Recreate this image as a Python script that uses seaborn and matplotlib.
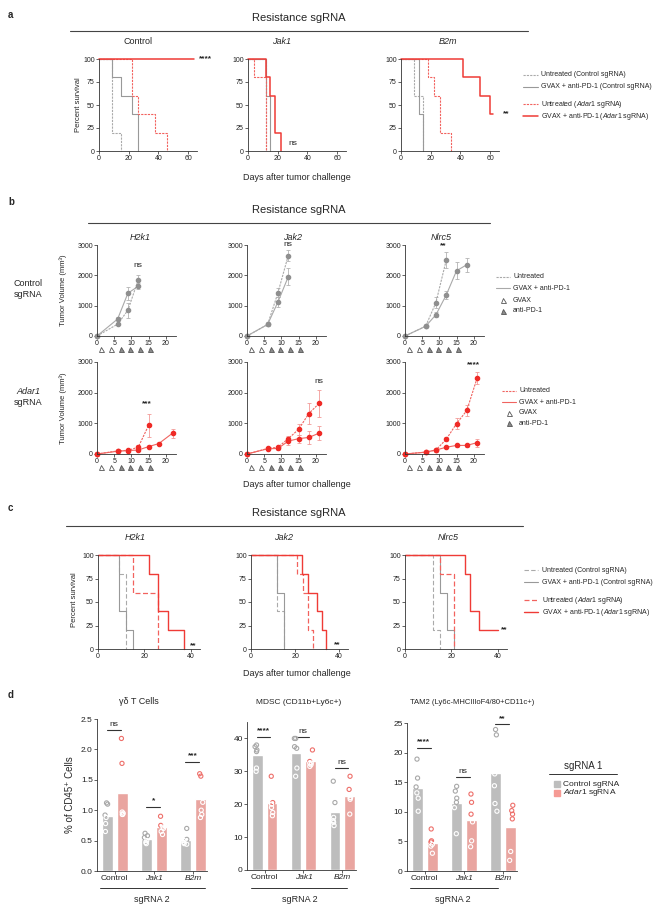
import numpy as np
import pandas as pd
import seaborn as sns
import matplotlib.pyplot as plt
import matplotlib.transforms as mtransforms
from matplotlib.lines import Line2D
from matplotlib.patches import Rectangle

# ---------------- a: survival, resistance sgRNA (days, % survival) ----------------
a_genes = ["Control", "Jak1", "B2m"]
a_control_unt_ctrl = [[0, 9, 15], [100, 20, 0]]
a_control_gvax_ctrl = [[0, 9, 15, 22, 26], [100, 80, 60, 40, 0]]
a_control_unt_adar = [[0, 22, 26, 38, 46], [100, 60, 40, 20, 0]]
a_control_gvax_adar = [[0, 64], [100, 100]]
a_jak1_unt_ctrl = [[0, 12], [100, 0]]
a_jak1_gvax_ctrl = [[0, 12, 15], [100, 60, 0]]
a_jak1_unt_adar = [[0, 4, 12], [100, 80, 0]]
a_jak1_gvax_adar = [[0, 12, 15, 18, 22], [100, 80, 60, 20, 0]]
a_b2m_unt_ctrl = [[0, 9, 15], [100, 60, 0]]
a_b2m_gvax_ctrl = [[0, 12, 15], [100, 40, 0]]
a_b2m_unt_adar = [[0, 18, 22, 26, 34], [100, 80, 60, 20, 0]]
a_b2m_gvax_adar = [[0, 42, 53, 60, 62], [100, 80, 60, 40, 40]]
a_sig = ["****", "ns", "**"]
a_sig_xy = [(67, 100), (27, 8), (69, 40)]

# ---------------- b: tumour growth (day, mean mm3, error) ----------------
b_genes = ["H2k1", "Jak2", "Nlrc5"]
b_h2k1_ctrl_unt = [[0, 6, 9, 12], [0, 390, 850, 1850], [0, 40, 250, 170]]
b_h2k1_ctrl_gvax = [[0, 6, 9, 12], [0, 560, 1410, 1640], [0, 60, 220, 100]]
b_jak2_ctrl_unt = [[0, 6, 9, 12], [0, 380, 1420, 2650], [0, 40, 150, 180]]
b_jak2_ctrl_gvax = [[0, 6, 9, 12], [0, 380, 1120, 1950], [0, 30, 170, 280]]
b_nlrc5_ctrl_unt = [[0, 6, 9, 12], [0, 320, 1100, 2500], [0, 30, 180, 270]]
b_nlrc5_ctrl_gvax = [[0, 6, 9, 12, 15, 18], [0, 320, 700, 1350, 2150, 2350], [0, 30, 80, 120, 280, 230]]
b_h2k1_adar_unt = [[0, 6, 9, 12, 15], [0, 100, 120, 220, 930], [0, 20, 20, 60, 380]]
b_h2k1_adar_gvax = [[0, 6, 9, 12, 15, 18, 22], [0, 90, 110, 130, 240, 340, 680], [0, 20, 20, 30, 40, 60, 150]]
b_jak2_adar_unt = [[0, 6, 9, 12, 15, 18, 21], [0, 180, 220, 500, 800, 1320, 1650], [0, 30, 40, 80, 170, 330, 440]]
b_jak2_adar_gvax = [[0, 6, 9, 12, 15, 18, 21], [0, 170, 180, 420, 500, 540, 680], [0, 30, 40, 130, 130, 220, 220]]
b_nlrc5_adar_unt = [[0, 6, 9, 12, 15, 18, 21], [0, 60, 130, 480, 990, 1420, 2480], [0, 15, 30, 60, 180, 180, 200]]
b_nlrc5_adar_gvax = [[0, 6, 9, 12, 15, 18, 21], [0, 60, 130, 220, 280, 280, 370], [0, 15, 30, 40, 50, 50, 130]]
b_gvax_days = [1.3, 4.1]
b_pd1_days = [6.9, 9.7, 12.5, 15.3]
b_sig_top = ["ns", "ns", "**"]
b_sig_top_xy = [(12, 2330), (12, 3020), (11, 2990)]
b_sig_bot = ["***", "ns", "****"]
b_sig_bot_xy = [(14.5, 1650), (21, 2350), (20, 2900)]

# ---------------- c: survival, resistance sgRNA ----------------
c_h2k1_unt_ctrl = [[0, 9, 12], [100, 80, 0]]
c_h2k1_gvax_ctrl = [[0, 9, 12, 15], [100, 40, 20, 0]]
c_h2k1_unt_adar = [[0, 15, 26], [100, 60, 0]]
c_h2k1_gvax_adar = [[0, 22, 26, 30, 37], [100, 80, 40, 20, 0]]
c_jak2_unt_ctrl = [[0, 12, 15], [100, 40, 0]]
c_jak2_gvax_ctrl = [[0, 12, 15], [100, 60, 0]]
c_jak2_unt_adar = [[0, 21, 23.5, 26, 28], [100, 80, 60, 20, 0]]
c_jak2_gvax_adar = [[0, 23, 26, 30, 32, 34], [100, 80, 60, 40, 20, 0]]
c_nlrc5_unt_ctrl = [[0, 12, 15], [100, 20, 0]]
c_nlrc5_gvax_ctrl = [[0, 15, 18, 21], [100, 60, 20, 0]]
c_nlrc5_unt_adar = [[0, 15, 21], [100, 80, 0]]
c_nlrc5_gvax_adar = [[0, 26, 28, 32, 40], [100, 80, 40, 20, 20]]
c_sig = ["**", "**", "**"]
c_sig_xy = [(41, 3), (39, 5), (43, 20)]

# ---------------- d: % of CD45+ cells ----------------
d_groups = ["Control", "Jak1", "B2m"]
d_sg1 = ["Control sgRNA", "Adar1 sgRNA"]
gd_ctrl = [[1.12, 1.10, 0.92, 0.88, 0.78, 0.65], [0.62, 0.58, 0.55, 0.50, 0.47, 0.45], [0.70, 0.52, 0.50, 0.47, 0.45, 0.44]]
gd_adar = [[2.18, 1.77, 0.97, 0.93, 0.93, 0.95], [0.90, 0.75, 0.72, 0.70, 0.65, 0.60], [1.60, 1.56, 1.13, 1.00, 0.93, 0.88]]
mdsc_ctrl = [[38, 37.5, 36.5, 36, 31, 30], [40, 40, 37.5, 37, 31, 28.5], [27, 20.5, 16, 15, 14.5, 13.5]]
mdsc_adar = [[28.5, 20.5, 20, 19, 17.5, 16.5], [36.5, 33, 32.5, 32.5, 32, 31.5], [28.5, 24.5, 22, 22, 21.5, 17]]
tam_ctrl = [[18.9, 15.7, 14.2, 13.2, 12.3, 10.1], [14.3, 13.5, 12.3, 11.6, 10.7, 6.3], [23.9, 23.0, 16.4, 14.4, 11.4, 10.1]]
tam_adar = [[7.1, 5.1, 4.9, 4.5, 4.2, 3.0], [13.0, 11.6, 9.6, 8.3, 5.1, 4.1], [11.1, 10.2, 9.6, 8.8, 3.3, 1.8]]
gd_sig = ["ns", "*", "***"]
gd_sig_y = [2.32, 1.06, 1.80]
mdsc_sig = ["****", "ns", "ns"]
mdsc_sig_y = [40.5, 40.5, 31]
tam_sig = ["****", "ns", "**"]
tam_sig_y = [20.8, 15.8, 24.8]

# ---------------- style ----------------
W, H = 654, 906
sns.set_theme(style="ticks")
plt.rcParams["font.family"] = ["Liberation Sans", "DejaVu Sans"]
plt.rcParams["mathtext.fontset"] = "custom"
plt.rcParams["mathtext.it"] = "Liberation Sans:italic"
plt.rcParams["mathtext.rm"] = "Liberation Sans"
plt.rcParams["axes.linewidth"] = 0.6
plt.rcParams["axes.edgecolor"] = "#333333"

GRAY = "#999999"
GRAY_D = "#aaaaaa"
RED = "#ef3b36"
RED_D = "#f2625e"
BAR_GRAY = "#bdbdbd"
BAR_RED = "#f59a94"
PT_GRAY = "#a8a8a8"
PT_RED = "#ee6f6a"
SHORT = (0, (2, 1))
LONG = (0, (4, 2))

fig = plt.figure(figsize=(W / 100, H / 100), dpi=100)


def add_ax(x0, y0, x1, y1):
    ax = fig.add_axes([x0 / W, 1 - y1 / H, (x1 - x0) / W, (y1 - y0) / H])
    sns.despine(ax=ax)
    ax.tick_params(labelsize=5, length=2, width=0.5, pad=1, colors="#222222")
    return ax


def ftext(x, y, s, **kw):
    kw.setdefault("ha", "center")
    kw.setdefault("va", "center")
    fig.text(x / W, 1 - y / H, s, **kw)


def fline(x0, x1, y, **kw):
    kw.setdefault("color", "#444444")
    kw.setdefault("lw", 0.8)
    fig.add_artist(Line2D([x0 / W, x1 / W], [1 - y / H, 1 - y / H], **kw))


def survival(ax, curves, styles, xlim):
    for (days, pct), (color, ls, lw) in zip(curves, styles):
        sns.lineplot(x=days, y=pct, ax=ax, drawstyle="steps-post", color=color,
                     linestyle=ls, lw=lw, errorbar=None, clip_on=False)
    ax.set_xlim(*xlim)
    ax.set_ylim(0, 100)
    ax.set_yticks([0, 25, 50, 75, 100])


def growth(ax, unt, gvax, mcol, lcol, ecol):
    for (days, mean, err), ls in ((unt, SHORT), (gvax, "-")):
        ax.errorbar(days, mean, yerr=err, marker="o", ms=3, mfc=mcol, mec=mcol,
                    color=lcol, ls=ls, lw=0.8, ecolor=ecol, elinewidth=0.6,
                    capsize=1.5, capthick=0.6, clip_on=False)
    ax.set_xlim(0, 23)
    ax.set_ylim(0, 3000)
    ax.set_xticks([0, 5, 10, 15, 20])
    ax.set_yticks([0, 1000, 2000, 3000])
    tr = mtransforms.blended_transform_factory(ax.transData, ax.transAxes)
    ax.plot(b_gvax_days, [-0.145] * len(b_gvax_days), "^", ms=3.6, mfc="white",
            mec="#555555", mew=0.6, transform=tr, clip_on=False)
    ax.plot(b_pd1_days, [-0.145] * len(b_pd1_days), "^", ms=3.6, mfc="#8c8c8c",
            mec="#555555", mew=0.6, transform=tr, clip_on=False)


# ================= panel a =================
ftext(8, 15, "a", fontsize=7, fontweight="bold", ha="left")
ftext(299, 18, "Resistance sgRNA", fontsize=8)
fline(70, 528, 31)
a_styles = [(GRAY_D, SHORT, 0.8), (GRAY, "-", 0.8), (RED_D, SHORT, 0.8), (RED, "-", 1.1)]
a_series = [
    [a_control_unt_ctrl, a_control_gvax_ctrl, a_control_unt_adar, a_control_gvax_adar],
    [a_jak1_unt_ctrl, a_jak1_gvax_ctrl, a_jak1_unt_adar, a_jak1_gvax_adar],
    [a_b2m_unt_ctrl, a_b2m_gvax_ctrl, a_b2m_unt_adar, a_b2m_gvax_adar],
]
a_boxes = [(99, 59, 197, 151), (248, 59, 346, 151), (401, 59, 499, 151)]
a_title_x = [138, 282, 448]
for i, gene in enumerate(a_genes):
    ax = add_ax(*a_boxes[i])
    survival(ax, a_series[i], a_styles, (0, 66))
    ax.set_xticks([0, 20, 40, 60])
    ax.text(*a_sig_xy[i], a_sig[i], fontsize=6, va="center", ha="left",
            fontweight="bold" if a_sig[i] != "ns" else "normal")
    ftext(a_title_x[i], 41, gene, fontsize=6.5, fontstyle="normal" if gene == "Control" else "italic")
ftext(79, 105, "Percent survival", fontsize=5.5, rotation=90)
ftext(297, 177, "Days after tumor challenge", fontsize=6.5)

a_leg = ["Untreated (Control sgRNA)", "GVAX + anti-PD-1 (Control sgRNA)",
         r"Untreated ($\mathit{Adar1}$ sgRNA)", r"GVAX + anti-PD-1 ($\mathit{Adar1}$ sgRNA)"]
for y, (c, ls, lw), lab in zip([75, 87, 104, 116], a_styles, a_leg):
    fline(523, 538, y, color=c, ls=ls, lw=lw)
    ftext(541, y, lab, fontsize=5, ha="left")

# ================= panel b =================
ftext(8, 202, "b", fontsize=7, fontweight="bold", ha="left")
ftext(299, 210, "Resistance sgRNA", fontsize=8)
fline(88, 490, 223)
for x, g in zip([140, 293, 441], b_genes):
    ftext(x, 237, g, fontsize=6.5, fontstyle="italic")
b_top = [(b_h2k1_ctrl_unt, b_h2k1_ctrl_gvax), (b_jak2_ctrl_unt, b_jak2_ctrl_gvax), (b_nlrc5_ctrl_unt, b_nlrc5_ctrl_gvax)]
b_bot = [(b_h2k1_adar_unt, b_h2k1_adar_gvax), (b_jak2_adar_unt, b_jak2_adar_gvax), (b_nlrc5_adar_unt, b_nlrc5_adar_gvax)]
b_x = [(97, 176), (247, 326), (405, 484)]
for i in range(3):
    ax = add_ax(b_x[i][0], 245, b_x[i][1], 336)
    growth(ax, *b_top[i], "#8f8f8f", "#a9a9a9", "#b3b3b3")
    ax.text(*b_sig_top_xy[i], b_sig_top[i], fontsize=6, ha="center", va="center",
            fontweight="bold" if b_sig_top[i] != "ns" else "normal")
    ax = add_ax(b_x[i][0], 362, b_x[i][1], 454)
    growth(ax, *b_bot[i], "#ef2a26", "#f06460", "#f39a97")
    ax.text(*b_sig_bot_xy[i], b_sig_bot[i], fontsize=6, ha="center", va="center",
            fontweight="bold" if b_sig_bot[i] != "ns" else "normal")
ftext(63, 290, "Tumor Volume (mm³)", fontsize=5.5, rotation=90)
ftext(63, 408, "Tumor Volume (mm³)", fontsize=5.5, rotation=90)
ftext(28, 289, "Control\nsgRNA", fontsize=6.5, linespacing=1.2)
ftext(28, 392, "Adar1", fontsize=6.5, fontstyle="italic")
ftext(28, 402, "sgRNA", fontsize=6.5)
ftext(297, 485, "Days after tumor challenge", fontsize=6.5)

for (lx, ys), (mc, lc) in zip([(496, [277, 288, 300, 311]), (502, [391, 402, 413, 423])],
                              [("#8f8f8f", "#a9a9a9"), ("#ef2a26", "#f06460")]):
    fline(lx, lx + 14, ys[0], color=lc, ls=SHORT, lw=0.8)
    fline(lx, lx + 14, ys[1], color=lc, lw=0.8)
    fig.add_artist(Line2D([(lx + 7) / W], [1 - ys[2] / H], marker="^", ms=3.6, mfc="white", mec="#555555", mew=0.6))
    fig.add_artist(Line2D([(lx + 7) / W], [1 - ys[3] / H], marker="^", ms=3.6, mfc="#8c8c8c", mec="#555555", mew=0.6))
    for y, lab in zip(ys, ["Untreated", "GVAX + anti-PD-1", "GVAX", "anti-PD-1"]):
        ftext(lx + 17, y, lab, fontsize=5, ha="left")

# ================= panel c =================
ftext(8, 508, "c", fontsize=7, fontweight="bold", ha="left")
ftext(299, 513, "Resistance sgRNA", fontsize=8)
fline(66, 523, 526)
c_styles = [(GRAY_D, LONG, 0.8), (GRAY, "-", 0.8), (RED_D, LONG, 0.9), (RED, "-", 1.0)]
c_series = [
    [c_h2k1_unt_ctrl, c_h2k1_gvax_ctrl, c_h2k1_unt_adar, c_h2k1_gvax_adar],
    [c_jak2_unt_ctrl, c_jak2_gvax_ctrl, c_jak2_unt_adar, c_jak2_gvax_adar],
    [c_nlrc5_unt_ctrl, c_nlrc5_gvax_ctrl, c_nlrc5_unt_adar, c_nlrc5_gvax_adar],
]
c_boxes = [(98, 555, 200, 649), (251, 555, 348, 649), (405, 555, 507, 649)]
for i, gene in enumerate(b_genes):
    ax = add_ax(*c_boxes[i])
    survival(ax, c_series[i], c_styles, (0, 44))
    ax.set_xticks([0, 20, 40])
    ax.text(*c_sig_xy[i], c_sig[i], fontsize=6, fontweight="bold", ha="center", va="center")
    ftext([135, 284, 448][i], 537, gene, fontsize=6.5, fontstyle="italic")
ftext(74, 600, "Percent survival", fontsize=5.5, rotation=90)
ftext(297, 673, "Days after tumor challenge", fontsize=6.5)
for y, (c, ls, lw), lab in zip([570, 582, 600, 612], c_styles, a_leg):
    fline(524, 538, y, color=c, ls=ls, lw=lw)
    ftext(542, y, lab, fontsize=5, ha="left")

# ================= panel d =================
ftext(8, 695, "d", fontsize=7, fontweight="bold", ha="left")


def tidy(ctrl, adar):
    rows = []
    for g, cv, av in zip(d_groups, ctrl, adar):
        rows += [(g, d_sg1[0], v) for v in cv]
        rows += [(g, d_sg1[1], v) for v in av]
    return pd.DataFrame(rows, columns=["sgRNA2", "sgRNA1", "pct"])


def bars(ax, df, ylim, yticks, sig, sig_y, seed):
    sns.barplot(data=df, x="sgRNA2", y="pct", hue="sgRNA1", order=d_groups, hue_order=d_sg1,
                palette=[BAR_GRAY, BAR_RED], errorbar=None, width=0.76, gap=0.27,
                legend=False, ax=ax)
    np.random.seed(seed)
    sns.stripplot(data=df, x="sgRNA2", y="pct", hue="sgRNA1", order=d_groups, hue_order=d_sg1,
                  palette=[PT_GRAY, PT_RED], dodge=True, jitter=0.09, size=3,
                  legend=False, ax=ax)
    for coll in ax.collections:
        off = coll.get_offsets()
        if len(off) == 0:
            continue
        col = coll.get_facecolor()[0]
        mean = off[:, 1].mean()
        coll.set_facecolor("none")
        coll.set_edgecolor(["white" if yv < mean else col for yv in off[:, 1]])
        coll.set_linewidth(0.8)
        coll.set_zorder(3)
    for k, (s, y) in enumerate(zip(sig, sig_y)):
        ax.plot([k - 0.2, k + 0.15], [y, y], color="#333333", lw=0.8)
        ax.text(k - 0.02, y + (ylim * 0.015), s, fontsize=6, ha="center", va="bottom",
                fontweight="bold" if s != "ns" else "normal")
    ax.set_xlim(-0.45, 2.35)
    ax.set_ylim(0, ylim)
    ax.set_yticks(yticks)
    ax.set_xlabel("")
    ax.set_ylabel("")
    ax.set_xticks([0, 1, 2])
    ax.set_xticklabels(d_groups)
    for lbl in ax.get_xticklabels()[1:]:
        lbl.set_fontstyle("italic")
    ax.tick_params(labelsize=6)


ax = add_ax(97, 719, 207, 871)
bars(ax, tidy(gd_ctrl, gd_adar), 2.5, [0, 0.5, 1.0, 1.5, 2.0, 2.5], gd_sig, gd_sig_y, 1)
ax.set_yticklabels(["0.0", "0.5", "1.0", "1.5", "2.0", "2.5"])
ax = add_ax(247, 722, 356, 870)
bars(ax, tidy(mdsc_ctrl, mdsc_adar), 45, [0, 10, 20, 30, 40], mdsc_sig, mdsc_sig_y, 2)
ax = add_ax(407, 723, 517, 871)
bars(ax, tidy(tam_ctrl, tam_adar), 25, [0, 5, 10, 15, 20, 25], tam_sig, tam_sig_y, 3)

ftext(139, 702, "γδ T Cells", fontsize=6.5)
ftext(299, 702, "MDSC (CD11b+Ly6c+)", fontsize=6)
ftext(472, 703, "TAM2 (Ly6c-MHCIIloF4/80+CD11c+)", fontsize=5.5)
ftext(70, 795, "% of CD45⁺ Cells", fontsize=7, rotation=90)
for x0, x1, xc in [(100, 205, 152), (251, 347, 300), (410, 498, 453)]:
    fline(x0, x1, 888, color="#333333", lw=0.7)
    ftext(xc, 899, "sgRNA 2", fontsize=6.5)

ftext(583, 766, "sgRNA 1", fontsize=7)
fline(549, 617, 774, color="#333333", lw=0.7)
for y, c, lab in zip([784, 793], [BAR_GRAY, BAR_RED], ["Control sgRNA", r"$\mathit{Adar1}$ sgRNA"]):
    fig.add_artist(Rectangle((554 / W, 1 - (y + 3) / H), 6 / W, 6 / H, color=c))
    ftext(563, y, lab, fontsize=6, ha="left")

fig.savefig("out.png", dpi=100)
